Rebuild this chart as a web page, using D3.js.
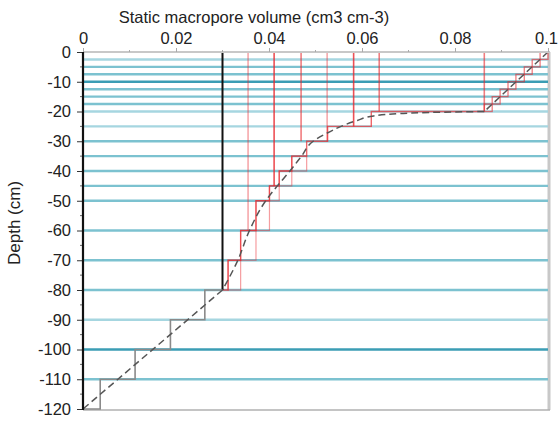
<!DOCTYPE html>
<html><head><meta charset="utf-8">
<script src="https://cdn.jsdelivr.net/npm/d3@7"></script>
<style>body{margin:0;background:#fff}svg{display:block;font-family:"Liberation Sans",Arial,sans-serif}</style>
</head><body><svg id="c" width="558" height="421"></svg>
<script>
// ---- data ----
const xTicks = [0, 0.02, 0.04, 0.06, 0.08, 0.1];
const xTickLabels = ["0", "0.02", "0.04", "0.06", "0.08", "0.1"];
const yTicks = [0, -10, -20, -30, -40, -50, -60, -70, -80, -90, -100, -110, -120];
const yTickLabels = ["0", "-10", "-20", "-30", "-40", "-50", "-60", "-70", "-80", "-90", "-100", "-110", "-120"];
const layerBoundaries = [-2.5, -5, -7.5, -10, -12.5, -15, -17.5, -20, -25, -30, -35, -40, -45, -50, -60, -70, -80, -90, -100, -110];
// dashed reference curve: straight top part, curved middle, straight bottom part
const topLineDepth = [0, -20];
const topLineValue = [0.1, 0.0863];
const curveDepth = [-20, -20.3, -20.7, -21.5, -23, -25, -27.5, -30, -35, -40, -45, -50, -60, -70, -80];
const curveValue = [0.0863, 0.075, 0.068, 0.0625, 0.059, 0.0555, 0.0522, 0.0495, 0.0470, 0.0445, 0.0418, 0.0393, 0.0358, 0.0333, 0.0300];
const bottomLineDepth = [-80, -120];
const bottomLineValue = [0.03, 0.0];
// black profile
const blackTopValue = 0.03, blackTopDepth = -80;
const blackLayerTop = [-80, -90, -100, -110];
const blackLayerBottom = [-90, -100, -110, -120];
const blackLayerValue = [0.0262, 0.0188, 0.0112, 0.0037];
// red vertical profiles from surface
const redLineValue = [0.0355, 0.0411, 0.0469, 0.0525, 0.0582, 0.0637, 0.0863];
const redLineEnd = [-60, -45, -30, -30, -25, -20, -20];
// red layered profile (lower layers): layer value and upper bound
const redLayerTop = [-70, -60, -50, -45, -40, -35, -30, -25];
const redLayerBottom = [-80, -70, -60, -50, -45, -40, -35, -30];
const redLayerValue = [0.0312, 0.0339, 0.0372, 0.0401, 0.0422, 0.0449, 0.0481, 0.0526];
const redLayerHigh = [0.0339, 0.0372, 0.0401, 0.0422, 0.0449, 0.0481];
// transition layer -25..-20
const redTransValue = 0.0620;
const redTransEnd = 0.0863;
// red layer boxes (upper layers)
const redBoxTop = [-17.5, -15, -12.5, -10, -7.5, -5, -2.5, 0];
const redBoxBottom = [-20, -17.5, -15, -12.5, -10, -7.5, -5, -2.5];
const redBoxLeft = [0.0863, 0.0880, 0.0897, 0.0914, 0.0931, 0.0949, 0.0966, 0.0983];
const redBoxRight = [0.0880, 0.0897, 0.0914, 0.0931, 0.0949, 0.0966, 0.0983, 0.1];

// ---- chart ----
const svg = d3.select("#c");
const L = 83, R = 548, T = 52, B = 409;
const FS = 16.5;
const x = d3.scaleLinear().domain([0, 0.1]).range([L, R]);
const y = d3.scaleLinear().domain([0, -120]).range([T, B]);

// frame
svg.append("line").attr("x1", R + 1).attr("x2", R + 1).attr("y1", T).attr("y2", B + 1).attr("stroke", "#c8c8c8").attr("stroke-width", 3);
svg.append("line").attr("x1", L).attr("x2", R + 2).attr("y1", B + 1).attr("y2", B + 1).attr("stroke", "#b0b0b0").attr("stroke-width", 1.5);

// teal layer lines
const darkSet = new Set([-10, -100]);
const lightSet = new Set([-2.5, -20, -25, -90]);
svg.append("g").selectAll("line").data(layerBoundaries).join("line")
  .attr("x1", L).attr("x2", R).attr("y1", d => y(d)).attr("y2", d => y(d))
  .attr("stroke", d => darkSet.has(d) ? "#3b9db4" : lightSet.has(d) ? "#a6d6e0" : "#7cc2d0")
  .attr("stroke-width", 2.4);

const redCol = "#e8262c";
const lg = d3.line().x(d => x(d[0])).y(d => y(d[1]));
// red bound boxes (value..upper bound) for lower layers
const bnd = redLayerHigh.map((h, i) => ({l: redLayerValue[i], h, t: redLayerTop[i], b: redLayerBottom[i]}));
svg.append("g").selectAll("rect").data(bnd).join("rect")
  .attr("x", d => x(d.l)).attr("width", d => x(d.h) - x(d.l))
  .attr("y", d => y(d.t)).attr("height", d => y(d.b) - y(d.t))
  .attr("fill", "none").attr("stroke", redCol).attr("stroke-opacity", 0.45).attr("stroke-width", 1.2);
// red layered step path
let rp = [[blackTopValue, -80]];
redLayerValue.forEach((v, i) => { rp.push([v, redLayerBottom[i]]); rp.push([v, redLayerTop[i]]); });
rp.push([redTransValue, -25]); rp.push([redTransValue, -20]); rp.push([redTransEnd, -20]);
svg.append("path").attr("d", lg(rp)).attr("fill", "none").attr("stroke", redCol)
  .attr("stroke-opacity", 0.7).attr("stroke-width", 1.4);

// red boxes (upper)
const boxes = redBoxTop.map((t, i) => ({t, b: redBoxBottom[i], l: redBoxLeft[i], r: redBoxRight[i]}));
svg.append("g").selectAll("rect").data(boxes).join("rect")
  .attr("x", d => x(d.l)).attr("width", d => x(d.r) - x(d.l))
  .attr("y", d => y(d.t)).attr("height", d => y(d.b) - y(d.t))
  .attr("fill", "none").attr("stroke", redCol).attr("stroke-opacity", 0.6).attr("stroke-width", 1.3);

// red verticals
const redOp = [0.4, 0.8, 0.6, 0.4, 0.8, 0.6, 0.6];
svg.append("g").selectAll("line").data(redLineValue).join("line")
  .attr("x1", d => x(d)).attr("x2", d => x(d))
  .attr("y1", y(0)).attr("y2", (d, i) => y(redLineEnd[i]))
  .attr("stroke", redCol).attr("stroke-opacity", (d, i) => redOp[i]).attr("stroke-width", 1.6);

// black profile
svg.append("line").attr("x1", x(blackTopValue)).attr("x2", x(blackTopValue)).attr("y1", y(0)).attr("y2", y(blackTopDepth))
  .attr("stroke", "#111").attr("stroke-width", 2);
let stepPts = [[blackTopValue, blackTopDepth]];
blackLayerTop.forEach((t, i) => { stepPts.push([blackLayerValue[i], t]); stepPts.push([blackLayerValue[i], blackLayerBottom[i]]); });
stepPts.push([0, -120]);
svg.append("path").attr("d", lg(stepPts))
  .attr("fill", "none").attr("stroke", "#8a8a8a").attr("stroke-width", 1.6);

// dashed curve
const pts = (ds, vs) => ds.map((d, i) => [vs[i], d]);
const dashD = d3.line().x(d => x(d[0])).y(d => y(d[1]))(pts(topLineDepth, topLineValue)) +
  d3.line().x(d => x(d[0])).y(d => y(d[1])).curve(d3.curveMonotoneY)(pts(curveDepth, curveValue)) +
  d3.line().x(d => x(d[0])).y(d => y(d[1]))(pts(bottomLineDepth, bottomLineValue));
svg.append("path").attr("d", dashD)
  .attr("fill", "none").attr("stroke", "#555").attr("stroke-width", 1.5).attr("stroke-dasharray", "7,4");

// top axis
svg.append("line").attr("x1", L).attr("x2", R + 2).attr("y1", T).attr("y2", T).attr("stroke", "#c8c8c8").attr("stroke-width", 2);
const xAxis = d3.axisTop(x).tickValues(xTicks).tickFormat((d, i) => xTickLabels[i]).tickSize(4).tickPadding(4);
const gx = svg.append("g").attr("transform", `translate(0,${T})`).call(xAxis);
gx.select(".domain").remove();
gx.selectAll("line").attr("stroke", "#aaa");
gx.selectAll("text").attr("font-size", FS).attr("fill", "#222").attr("font-family", "Liberation Sans, Arial, sans-serif")
  .attr("dx", (d, i) => i === xTicks.length - 1 ? -2 : 0);
const xMinor = d3.range(1, 10, 2).map(k => k / 100);
svg.append("g").selectAll("line").data(xMinor).join("line")
  .attr("x1", d => x(d)).attr("x2", d => x(d)).attr("y1", T - 2).attr("y2", T).attr("stroke", "#aaa");

// left axis
const yAxis = d3.axisLeft(y).tickValues(yTicks).tickFormat((d, i) => yTickLabels[i]).tickSize(6).tickPadding(6);
const gy = svg.append("g").attr("transform", `translate(${L},0)`).call(yAxis);
gy.select(".domain").remove();
gy.selectAll("line").attr("stroke", "#333");
gy.selectAll("text").attr("font-size", FS).attr("fill", "#222").attr("font-family", "Liberation Sans, Arial, sans-serif");
const yMinor = d3.range(-5, -120, -10);
svg.append("g").selectAll("line").data(yMinor).join("line")
  .attr("x1", L - 3).attr("x2", L).attr("y1", d => y(d)).attr("y2", d => y(d)).attr("stroke", "#666");
svg.append("line").attr("x1", L).attr("x2", L).attr("y1", T).attr("y2", B + 1).attr("stroke", "#111").attr("stroke-width", 2.2);

// titles
svg.append("text").attr("x", 254).attr("y", 23).attr("text-anchor", "middle").attr("font-size", FS).attr("fill", "#222")
  .text("Static macropore volume (cm3 cm-3)");
svg.append("text").attr("transform", "translate(20,223) rotate(-90)").attr("text-anchor", "middle").attr("font-size", 17).attr("fill", "#222")
  .text("Depth (cm)");
</script></body></html>
